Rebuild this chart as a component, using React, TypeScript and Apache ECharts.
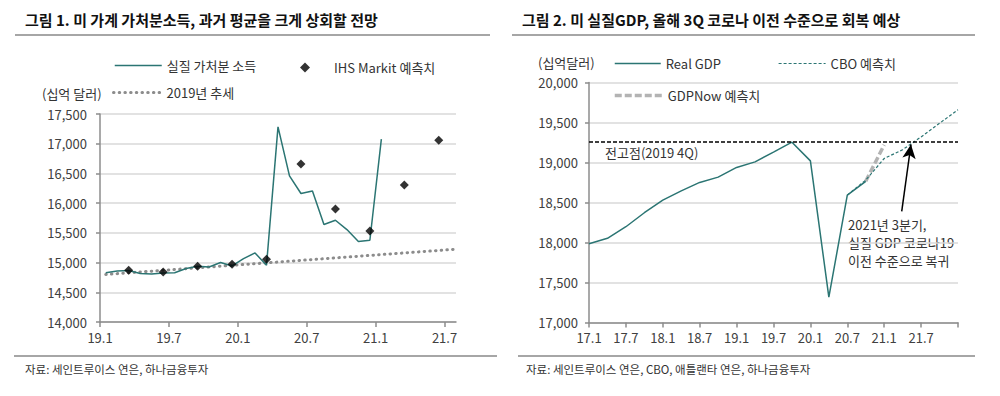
import React, { useEffect, useRef } from 'react';
import * as echarts from 'echarts';

const FONT = '"Noto Sans CJK KR", "Noto Sans", sans-serif';
const TEAL = '#2b7573';

// ---------- Figure 1: real disposable income ----------
const monthLabels = [
  '19.1', '19.2', '19.3', '19.4', '19.5', '19.6', '19.7', '19.8', '19.9', '19.10', '19.11', '19.12',
  '20.1', '20.2', '20.3', '20.4', '20.5', '20.6', '20.7', '20.8', '20.9', '20.10', '20.11', '20.12',
  '21.1', '21.2', '21.3', '21.4', '21.5', '21.6', '21.7',
];
const incomeValues = [
  14830, 14858, 14865, 14815, 14808, 14825, 14830, 14899, 14938, 14926, 15000, 14943,
  15067, 15162, 14955, 17283, 16458, 16162, 16205, 15640, 15712, 15555, 15353, 15375,
  17076,
];
const ihsMonths = ['19.3', '19.6', '19.9', '19.12', '20.3', '20.6', '20.9', '20.12', '21.3', '21.6'];
const ihsValues = [14870, 14840, 14940, 14970, 15055, 16660, 15902, 15532, 16306, 17059];
const trendStartEnd = [14800, 15225];
const leftTickLabels = ['19.1', '19.7', '20.1', '20.7', '21.1', '21.7'];

// ---------- Figure 2: real GDP ----------
const quarterLabels = [
  '17.1', '17.4', '17.7', '17.10', '18.1', '18.4', '18.7', '18.10', '19.1', '19.4', '19.7', '19.10',
  '20.1', '20.4', '20.7', '20.10', '21.1', '21.4', '21.7', '21.10', '22.1',
];
const gdpValues = [
  17985, 18052, 18197, 18372, 18530, 18646, 18751, 18817, 18938, 19008, 19129, 19254,
  19020, 17317, 18592, 18765,
];
const cboStart = '20.7';
const cboValues = [18592, 18780, 19050, 19160, 19320, 19490, 19660];
const gdpNowStart = '20.10';
const gdpNowValues = [18765, 19220];
const peakValue = 19254;
const arrowTail = [16.95, 18390];
const arrowHead = [17.45, 19225];
const rightTickLabels = ['17.1', '17.7', '18.1', '18.7', '19.1', '19.7', '20.1', '20.7', '21.1', '21.7'];

const fmtNum = (v: number) => v.toLocaleString('en-US');

export default function App() {
  const ref = useRef<HTMLDivElement>(null);

  useEffect(() => {
    if (!ref.current) return;
    const chart = echarts.init(ref.current, undefined, { renderer: 'svg' });

    const leftTickIdx = leftTickLabels.map((l) => monthLabels.indexOf(l));
    const rightTickIdx = rightTickLabels.map((l) => quarterLabels.indexOf(l));
    const cboIdx = quarterLabels.indexOf(cboStart);
    const gdpNowIdx = quarterLabels.indexOf(gdpNowStart);

    const axisGray = '#8c8c8c';
    const labelStyle = { fontFamily: FONT, fontSize: 13, color: '#404040' };

    const legendBase = {
      orient: 'horizontal',
      padding: 0,
      itemGap: 0,
      selectedMode: false,
      itemHeight: 14,
      textStyle: { fontFamily: FONT, fontSize: 13, color: '#333' },
    };
    const noSymbol = { itemStyle: { opacity: 0, borderWidth: 0 } };

    const option: any = {
      animation: false,
      backgroundColor: '#fff',
      grid: [
        { left: 100, top: 114, width: 356, height: 208, containLabel: false },
        { left: 589, top: 82.5, width: 369, height: 240, containLabel: false },
      ],
      xAxis: [
        {
          type: 'value', gridIndex: 0, min: 0, max: monthLabels.length, interval: 6,
          axisLine: { show: true, lineStyle: { color: axisGray, width: 1.5 } },
          axisTick: { show: true, length: 5, lineStyle: { color: axisGray, width: 1.5 }, customValues: leftTickIdx },
          axisLabel: {
            ...labelStyle, margin: 9, customValues: leftTickIdx,
            formatter: (v: number) => (leftTickIdx.includes(v) ? monthLabels[v] : ''),
          },
          splitLine: { show: false },
        },
        {
          type: 'value', gridIndex: 1, min: 0, max: quarterLabels.length - 1, interval: 2,
          axisLine: { show: true, lineStyle: { color: axisGray, width: 1.5 } },
          axisTick: { show: true, length: 5, lineStyle: { color: axisGray, width: 1.5 } },
          axisLabel: {
            ...labelStyle, margin: 8, customValues: rightTickIdx,
            formatter: (v: number) => (rightTickIdx.includes(v) ? quarterLabels[v] : ''),
          },
          splitLine: { show: false },
        },
      ],
      yAxis: [
        {
          type: 'value', gridIndex: 0, min: 14000, max: 17500, interval: 500,
          axisLine: { show: true, lineStyle: { color: axisGray, width: 1.5 } },
          axisTick: { show: true, length: 4, lineStyle: { color: axisGray, width: 1.5 } },
          axisLabel: { ...labelStyle, margin: 13, formatter: fmtNum },
          splitLine: { show: true, lineStyle: { color: '#d9d9d9', width: 1.5 } },
        },
        {
          type: 'value', gridIndex: 1, min: 17000, max: 20000, interval: 500,
          axisLine: { show: true, lineStyle: { color: axisGray, width: 1.5 } },
          axisTick: { show: true, length: 4, lineStyle: { color: axisGray, width: 1.5 } },
          axisLabel: { ...labelStyle, margin: 11, formatter: fmtNum },
          splitLine: { show: true, lineStyle: { color: '#d9d9d9', width: 1.5 } },
        },
      ],
      legend: [
        { ...legendBase, ...noSymbol, lineStyle: { width: 1.5 }, data: ['실질 가처분 소득'], left: 114, top: 59, itemWidth: 47 },
        {
          ...legendBase, data: ['IHS Markit 예측치'], left: 300, top: 61, itemWidth: 10, itemHeight: 10,
          textStyle: { ...legendBase.textStyle, padding: [0, 0, 0, 19] },
        },
        { ...legendBase, ...noSymbol, lineStyle: { width: 3 }, data: ['2019년 추세'], left: 112, top: 86, itemWidth: 48 },
        { ...legendBase, ...noSymbol, lineStyle: { width: 1.5 }, data: ['Real GDP'], left: 614, top: 57, itemWidth: 46 },
        { ...legendBase, ...noSymbol, lineStyle: { width: 1.2 }, data: ['CBO 예측치'], left: 778, top: 57, itemWidth: 47 },
        { ...legendBase, ...noSymbol, lineStyle: { width: 3.5 }, data: ['GDPNow 예측치'], left: 613, top: 89, itemWidth: 48 },
      ],
      series: [
        {
          name: '2019년 추세', type: 'line', xAxisIndex: 0, yAxisIndex: 0, symbol: 'none', z: 2,
          data: [[0.5, trendStartEnd[0]], [monthLabels.length, trendStartEnd[1]]],
          lineStyle: { color: '#8c8c8c', width: 3, type: [0.5, 5.2], cap: 'round' },
          itemStyle: { color: '#8c8c8c' },
        },
        {
          name: '실질 가처분 소득', type: 'line', xAxisIndex: 0, yAxisIndex: 0, symbol: 'none', z: 3,
          data: incomeValues.map((v, i) => [i + 0.5, v]),
          lineStyle: { color: TEAL, width: 1.5 },
          itemStyle: { color: TEAL },
        },
        {
          name: 'IHS Markit 예측치', type: 'scatter', xAxisIndex: 0, yAxisIndex: 0, symbol: 'diamond', symbolSize: 9, z: 4,
          data: ihsMonths.map((m, k) => [monthLabels.indexOf(m) + 0.5, ihsValues[k]]),
          itemStyle: { color: '#000' },
        },
        {
          name: 'Real GDP', type: 'line', xAxisIndex: 1, yAxisIndex: 1, symbol: 'none', z: 3,
          data: gdpValues.map((v, i) => [i, v]),
          lineStyle: { color: TEAL, width: 1.5 },
          itemStyle: { color: TEAL },
          markLine: {
            silent: true, symbol: ['none', 'none'], label: { show: false },
            lineStyle: { color: '#000', width: 1.5, type: [4, 2] },
            data: [{ yAxis: peakValue }],
          },
        },
        {
          name: 'CBO 예측치', type: 'line', xAxisIndex: 1, yAxisIndex: 1, symbol: 'none', z: 3,
          data: cboValues.map((v, i) => [cboIdx + i, v]),
          lineStyle: { color: TEAL, width: 1.2, type: [3, 2] },
          itemStyle: { color: TEAL },
          markLine: {
            silent: true, symbol: ['none', 'arrow'], symbolSize: [10, 14], label: { show: false },
            lineStyle: { color: '#000', width: 1.5, type: 'solid' },
            data: [[{ coord: arrowTail }, { coord: arrowHead }]],
          },
        },
        {
          name: 'GDPNow 예측치', type: 'line', xAxisIndex: 1, yAxisIndex: 1, symbol: 'none', z: 2,
          data: gdpNowValues.map((v, i) => [gdpNowIdx + i, v]),
          lineStyle: { color: '#b3b3b3', width: 3.5, type: [7, 3] },
          itemStyle: { color: '#b3b3b3' },
        },
      ],
      graphic: [
        { type: 'text', x: 25, y: 19, style: { text: '그림 1. 미 가계 가처분소득, 과거 평균을 크게 상회할 전망', fontFamily: FONT, fontSize: 15, fontWeight: 'bold', fill: '#111', verticalAlign: 'middle' } },
        { type: 'text', x: 522, y: 19, style: { text: '그림 2. 미 실질GDP, 올해 3Q 코로나 이전 수준으로 회복 예상', fontFamily: FONT, fontSize: 15, fontWeight: 'bold', fill: '#111', verticalAlign: 'middle' } },
        { type: 'line', shape: { x1: 15, y1: 35, x2: 490, y2: 35 }, style: { stroke: '#a6a6a6', lineWidth: 2 } },
        { type: 'line', shape: { x1: 512, y1: 35, x2: 975, y2: 35 }, style: { stroke: '#a6a6a6', lineWidth: 2 } },
        { type: 'line', shape: { x1: 14, y1: 356, x2: 497, y2: 356 }, style: { stroke: '#a6a6a6', lineWidth: 2 } },
        { type: 'line', shape: { x1: 518, y1: 356, x2: 975, y2: 356 }, style: { stroke: '#a6a6a6', lineWidth: 2 } },
        { type: 'text', x: 25, y: 369, style: { text: '자료: 세인트루이스 연은, 하나금융투자', fontFamily: FONT, fontSize: 11.5, fill: '#333', verticalAlign: 'middle' } },
        { type: 'text', x: 526, y: 369, style: { text: '자료: 세인트루이스 연은, CBO, 애틀랜타 연은, 하나금융투자', fontFamily: FONT, fontSize: 11.5, fill: '#333', verticalAlign: 'middle' } },
        { type: 'text', x: 42, y: 93, style: { text: '(십억 달러)', fontFamily: FONT, fontSize: 13, fill: '#333', verticalAlign: 'middle' } },
        { type: 'text', x: 538, y: 62, style: { text: '(십억달러)', fontFamily: FONT, fontSize: 13, fill: '#333', verticalAlign: 'middle' } },
        { type: 'text', x: 605, y: 152, style: { text: '전고점(2019 4Q)', fontFamily: FONT, fontSize: 13, fill: '#333', verticalAlign: 'middle' } },
        { type: 'text', x: 848, y: 215, style: { text: '2021년 3분기,\n실질 GDP 코로나19\n이전 수준으로 복귀', fontFamily: FONT, fontSize: 13, lineHeight: 18.3, fill: '#333', verticalAlign: 'top' } },
      ],
    };

    chart.setOption(option);
    return () => chart.dispose();
  }, []);

  return (
    <div
      ref={ref}
      style={{ position: 'fixed', left: 0, top: 0, width: 1000, height: 396, background: '#fff' }}
    />
  );
}
